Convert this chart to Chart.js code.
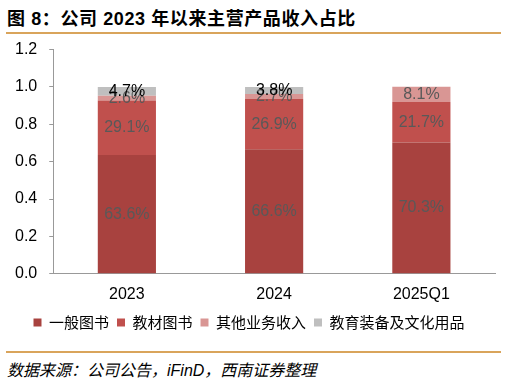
<!DOCTYPE html>
<html>
<head>
<meta charset="utf-8">
<script src="https://cdn.jsdelivr.net/npm/chart.js@4/dist/chart.umd.min.js"></script>
<style>
  body { margin: 0; width: 507px; height: 382px; background: #fff; position: relative; overflow: hidden; font-family: "Liberation Sans", "Noto Sans CJK SC", sans-serif; }
  #titulo { position: absolute; left: 7px; top: 4px; font-size: 18px; font-weight: bold; letter-spacing: 0.6px; color: #000; font-family: "Liberation Sans", "Noto Sans CJK SC", sans-serif; }
  .linea { position: absolute; left: 6px; width: 495px; height: 2px; background: #D9A45B; }
  #fuente { position: absolute; left: 7px; top: 357px; font-size: 16px; font-style: italic; color: #000; font-family: "Liberation Sans", "Noto Sans CJK SC", sans-serif; }
  #lienzo { position: absolute; left: 0; top: 28px; }
</style>
</head>
<body>
<div id="titulo">图 8：公司 2023 年以来主营产品收入占比</div>
<div class="linea" style="top:32px"></div>
<div id="lienzo"><canvas id="grafico" width="507" height="312"></canvas></div>
<div class="linea" style="top:351px"></div>
<div id="fuente">数据来源：公司公告，iFinD，西南证券整理</div>
<script>
const periodos = ['2023', '2024', '2025Q1'];
const series = ['一般图书', '教材图书', '其他业务收入', '教育装备及文化用品'];
const generales = [0.636, 0.666, 0.703];
const textos = [0.291, 0.269, 0.217];
const otros = [0.026, 0.027, 0.081];
const equipos = [0.047, 0.038, null];
const ticksY = [0, 0.2, 0.4, 0.6, 0.8, 1.0, 1.2];

const colores = ['#A8423F', '#C0504D', '#D99694', '#BFBFBF'];
const coloresEtiqueta = ['#595959', '#595959', '#595959', '#000000'];

const etiquetas = {
  id: 'etiquetas',
  afterDatasetsDraw(chart) {
    const ctx = chart.ctx;
    ctx.save();
    ctx.font = '16px "Liberation Sans", sans-serif';
    ctx.textAlign = 'center';
    ctx.textBaseline = 'middle';
    chart.data.datasets.forEach((ds, i) => {
      const meta = chart.getDatasetMeta(i);
      meta.data.forEach((bar, j) => {
        const v = ds.data[j];
        if (v == null) return;
        const y = (bar.y + bar.base) / 2;
        ctx.fillStyle = coloresEtiqueta[i];
        ctx.fillText((v * 100).toFixed(1) + '%', bar.x, y);
      });
    });
    ctx.restore();
  }
};

new Chart(document.getElementById('grafico'), {
  type: 'bar',
  data: {
    labels: periodos,
    datasets: [generales, textos, otros, equipos].map((d, i) => ({
      label: series[i],
      data: d,
      backgroundColor: colores[i],
      categoryPercentage: 1,
      barPercentage: 0.395
    }))
  },
  options: {
    responsive: false,
    animation: false,
    layout: { padding: { top: 0, right: 12, left: 3, bottom: 0 } },
    plugins: {
      legend: {
        position: 'bottom',
        labels: {
          boxWidth: 8,
          boxHeight: 8,
          padding: 8,
          color: '#000',
          font: { size: 15, family: '"Noto Sans CJK SC", sans-serif' }
        }
      },
      tooltip: { enabled: false }
    },
    scales: {
      x: {
        stacked: true,
        grid: { display: false },
        border: { color: '#999999' },
        ticks: { color: '#000', font: { size: 16, family: '"Liberation Sans", sans-serif' }, padding: 3 }
      },
      y: {
        stacked: true,
        min: 0,
        max: 1.2,
        afterBuildTicks: axis => { axis.ticks = ticksY.map(v => ({ value: v })); },
        grid: { drawOnChartArea: false, drawTicks: true, tickLength: 4, color: '#999999' },
        border: { color: '#999999' },
        ticks: {
          color: '#000',
          font: { size: 16, family: '"Liberation Sans", sans-serif' },
          padding: 12,
          callback: v => v.toFixed(1)
        }
      }
    }
  },
  plugins: [etiquetas]
});
</script>
</body>
</html>
